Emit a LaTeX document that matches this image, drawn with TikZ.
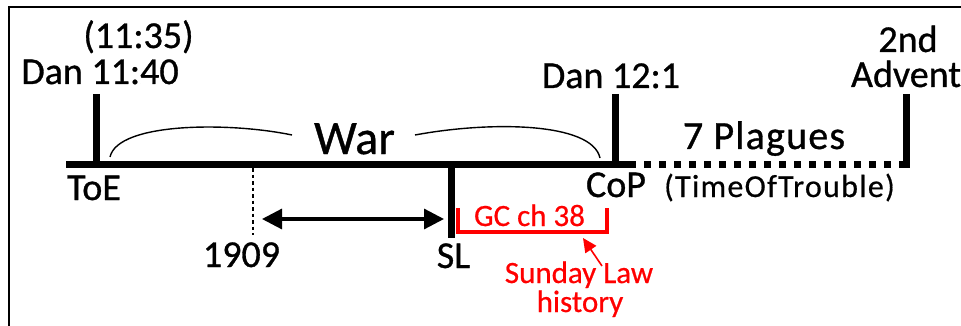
\documentclass[tikz,border=0pt]{standalone}
\usepackage{fontspec}
\setmainfont{Carlito}[FakeBold=0.8]
\usetikzlibrary{arrows.meta}
\definecolor{redline}{RGB}{255,0,0}
\begin{document}
\begin{tikzpicture}[x=1pt,y=-1pt,
  lbl/.style={font=\fontsize{38}{40}\selectfont\addfontfeature{FakeBold=0.8}, inner sep=0pt, anchor=base},
  warlbl/.style={font=\fontsize{48}{50}\selectfont\addfontfeature{FakeBold=0.8}, inner sep=0pt, anchor=base},
  plaglbl/.style={font=\fontsize{40}{42}\selectfont\addfontfeature{LetterSpace=3,FakeBold=0.8}, inner sep=0pt, anchor=base},
  totlbl/.style={font=\fontsize{32}{34}\selectfont\addfontfeature{LetterSpace=4,FakeBold=0.5}, inner sep=0pt, anchor=base},
  redlbl/.style={font=\fontsize{31}{33}\selectfont\addfontfeature{FakeBold=0.6}, text=redline, inner sep=0pt, anchor=base},
  tickline/.style={line width=7pt, line cap=butt},
  mainline/.style={line width=6.5pt, line cap=butt},
  dotline/.style={line width=6.5pt, line cap=butt, dash pattern=on 7pt off 8pt},
  braceline/.style={line width=1.4pt},
  framel/.style={line width=2pt},
]
\useasboundingbox (0,0) rectangle (961,326);

% frame
\coordinate (fa) at (8.5,326);
\coordinate (fb) at (8.5,7.5);
\coordinate (fc) at (961,7.5);
\draw[framel] (fa) -- (fb) -- (fc);

% timeline coordinates
\coordinate (tl0) at (66,164.5);
\coordinate (tl1) at (629,164.5);
\coordinate (tl2) at (903,164.5);
\coordinate (toeT) at (96,94);
\coordinate (toeB) at (96,165);
\coordinate (copT) at (615,94);
\coordinate (copB) at (615,165);
\coordinate (advT) at (906,94);
\coordinate (advB) at (906,167.8);
\coordinate (slT) at (451,164);
\coordinate (slB) at (451,238);
\coordinate (nT) at (253,168);
\coordinate (nB) at (253,235);
\coordinate (arL) at (262,219);
\coordinate (arR) at (444,219);

\draw[mainline] (tl0) -- (tl1);
\draw[dotline] (tl1) -- (tl2);
\draw[tickline] (toeT) -- (toeB);
\draw[tickline] (copT) -- (copB);
\draw[tickline] (advT) -- (advB);
\draw[tickline] (slT) -- (slB);
\draw[line width=2.2pt, dash pattern=on 3.5pt off 3pt] (nT) -- (nB);
\draw[line width=3.2pt, {Triangle[length=20pt,width=20pt]}-{Triangle[length=20pt,width=20pt]}] (arL) -- (arR);

% labels
\node[lbl] (t1135) at (138.5,48) {(11:35)};
\node[lbl] (d1140) at (100,84) {Dan 11:40};
\node[lbl] (d121) at (611,88) {Dan 12:1};
\node[lbl] (s2nd) at (908,52) {2nd};
\node[lbl] (adv) at (906,87) {Advent};
\node[warlbl] (war) at (354.5,154) {War};
\node[plaglbl] (plag) at (764,149) {7 Plagues};
\node[lbl] (toe) at (94,200) {ToE};
\node[lbl] (cop) at (616,197) {CoP};
\node[totlbl] (tot) at (779.5,197) {(TimeOfTrouble)};
\node[lbl] (y1909) at (241.5,267) {1909};
\node[lbl] (sl) at (453.5,268) {SL};

% war brace
\coordinate (bA) at (110,157);
\coordinate (bB) at (292,135);
\coordinate (bC) at (415,135);
\coordinate (bD) at (600,158);
\draw[braceline] (bA) .. controls (118,122) and (230,122) .. (bB);
\draw[braceline] (bC) .. controls (490,121) and (592,122) .. (bD);

% red part
\coordinate (rA) at (458,208);
\coordinate (rB) at (458,232);
\coordinate (rC) at (607,232);
\coordinate (rD) at (607,208);
\draw[redline, line width=3.5pt] (rA) -- (rB) -- (rC) -- (rD);
\node[redlbl] (gc) at (529.5,226) {GC ch 38};
\node[redlbl] (sun) at (579,283) {Sunday Law};
\node[redlbl] (hist) at (580,312) {history};
\coordinate (raT) at (602,266);
\coordinate (raH) at (583,238);
\draw[redline, line width=1.6pt, -{Triangle[length=14pt,width=13pt]}] (raT) -- (raH);
\end{tikzpicture}
\end{document}
